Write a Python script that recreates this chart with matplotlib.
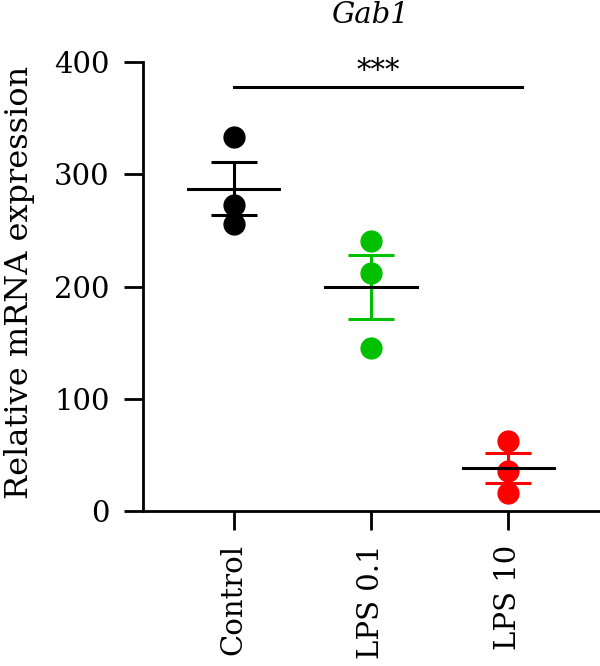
import numpy as np
import matplotlib
matplotlib.use("Agg")
import matplotlib.pyplot as plt

plt.rcParams['font.family'] = ['DejaVu Serif']

groups = ['Control', 'LPS 0.1', 'LPS 10']
values = [
    [333, 273, 256],
    [241, 212, 145],
    [62, 36, 16],
]
colors = ['#000000', '#00C000', '#FF0000']
yticks = [0, 100, 200, 300, 400]

fig = plt.figure(figsize=(6, 6.66), dpi=100)
ax = fig.add_axes([0.238, 0.2327, 0.762, 0.674])

for i, (vals, c) in enumerate(zip(values, colors)):
    vals = np.array(vals, dtype=float)
    m = vals.mean()
    sem = vals.std(ddof=1) / np.sqrt(len(vals))
    ax.plot([i] * len(vals), vals, 'o', color=c, markersize=15, zorder=3, clip_on=False)
    ax.errorbar(i, m, yerr=sem, fmt='none', ecolor=c, elinewidth=2.2,
                capsize=16.5, capthick=2.2, zorder=4)
    ax.plot([i - 0.332, i + 0.332], [m, m], color='black', lw=2.2, zorder=5)

# significance bar
ax.plot([0, 2.1], [378, 378], color='black', lw=2.2, clip_on=False)
ax.text(1.05, 380, '***', ha='center', va='bottom', fontsize=21)

ax.set_xlim(-0.664, 2.67)
ax.set_ylim(0, 400)
ax.set_yticks(yticks)
ax.set_xticks(range(len(groups)))
ax.set_xticklabels(groups, rotation=90, fontsize=21)
ax.tick_params(axis='y', labelsize=21, width=2, length=14, pad=10)
ax.tick_params(axis='x', width=2, length=14, pad=10)
for s in ['top', 'right']:
    ax.spines[s].set_visible(False)
for s in ['left', 'bottom']:
    ax.spines[s].set_linewidth(2)
ax.set_ylabel('Relative mRNA expression', fontsize=23)
ax.yaxis.set_label_coords(-0.236, 0.51)
fig.text(0.617, 0.977, 'Gab1', ha='center', va='center', fontsize=21, style='italic')

fig.savefig('out.png', dpi=100)
